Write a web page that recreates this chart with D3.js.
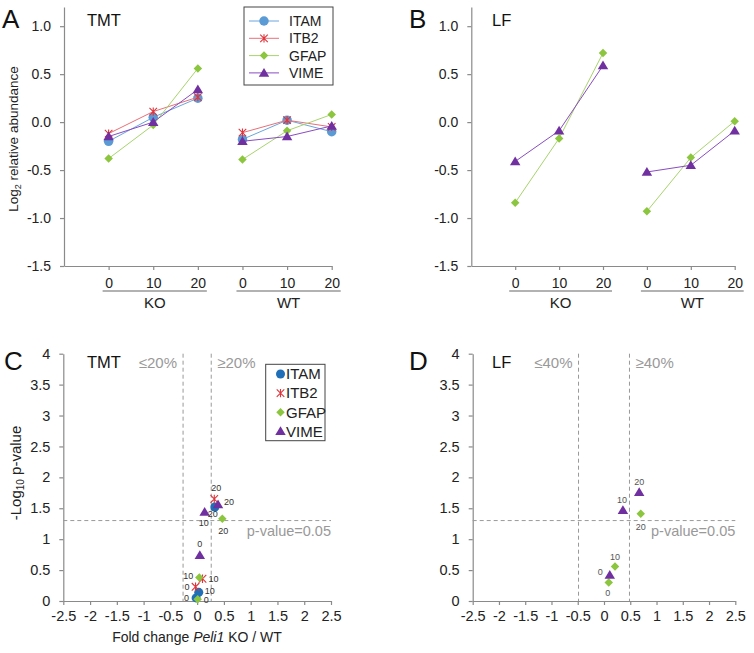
<!DOCTYPE html>
<html><head><meta charset="utf-8">
<script src="https://cdn.jsdelivr.net/npm/d3@7"></script>
<style>body{margin:0;background:#fff} svg{display:block} text{font-family:"Liberation Sans",Arial,sans-serif}</style>
</head><body><svg id="c" width="754" height="653"></svg>
<script>
// ---------------- data ----------------
const timeLabels = ["0", "10", "20"];
const groupLabels = ["KO", "WT"];
const proteins = ["ITAM", "ITB2", "GFAP", "VIME"];
const yTicksAB = [-1.5, -1.0, -0.5, 0.0, 0.5, 1.0];
const yTicksCD = [0, 0.5, 1, 1.5, 2, 2.5, 3, 3.5, 4];
const xTicksCD = [-2.5, -2, -1.5, -1, -0.5, 0, 0.5, 1, 1.5, 2, 2.5];

// Panel A (TMT) log2 relative abundance: KO 0,10,20 then WT 0,10,20
const tmtITAM = [-0.20, 0.05, 0.25, -0.18, 0.02, -0.10];
const tmtITB2 = [-0.12, 0.11, 0.26, -0.11, 0.02, -0.05];
const tmtGFAP = [-0.38, -0.03, 0.56, -0.39, -0.09, 0.08];
const tmtVIME = [-0.15, 0.00, 0.34, -0.20, -0.15, -0.04];
// Panel B (LF)
const lfGFAP = [-0.84, -0.17, 0.72, -0.93, -0.37, 0.01];
const lfVIME = [-0.41, -0.09, 0.59, -0.52, -0.45, -0.09];

// Panel C (TMT) volcano: fold change KO/WT and -log10 p for 0,10,20
const tmtFoldITAM = [-0.02, 0.03, 0.33];
const tmtPvalITAM = [0.05, 0.14, 1.52];
const tmtFoldITB2 = [-0.03, 0.10, 0.32];
const tmtPvalITB2 = [0.23, 0.36, 1.65];
const tmtFoldGFAP = [0.01, 0.04, 0.47];
const tmtPvalGFAP = [0.03, 0.38, 1.33];
const tmtFoldVIME = [0.05, 0.14, 0.39];
const tmtPvalVIME = [0.74, 1.44, 1.56];
// Panel D (LF)
const lfFoldGFAP = [0.09, 0.21, 0.70];
const lfPvalGFAP = [0.30, 0.56, 1.41];
const lfFoldVIME = [0.11, 0.36, 0.67];
const lfPvalVIME = [0.42, 1.47, 1.76];

const tmtCut = 0.263;   // log2(1.2)
const lfCut = 0.485;    // log2(1.4)
const pCut = 1.301;     // -log10(0.05)

// ---------------- style ----------------
const axisColor = "#8a8a8a";
const textColor = "#222";
const lineColA = {ITAM: "#6aa6dc", ITB2: "#e87078", GFAP: "#a8d46c", VIME: "#8a4cc0"};
const markColA = {ITAM: "#5b9bd5", ITB2: "#e0343a", GFAP: "#8cc63f", VIME: "#7030a0"};
const markColC = {ITAM: "#1f6eb8", ITB2: "#e0343a", GFAP: "#8cc63f", VIME: "#7030a0"};
const markType = {ITAM: "circle", ITB2: "star", GFAP: "diamond", VIME: "triangle"};
const markSizeA = {ITAM: 9.5, ITB2: 9, GFAP: 8.5, VIME: 9.5};
const markSizeC = {ITAM: 9, ITB2: 9, GFAP: 8.5, VIME: 9.5};

const svg = d3.select("#c");

function marker(g, type, cx, cy, color, s) {
  if (type === "circle") {
    g.append("circle").attr("cx", cx).attr("cy", cy).attr("r", s * 0.5).attr("fill", color);
  } else if (type === "diamond") {
    const h = s * 0.5;
    g.append("path").attr("d", `M${cx},${cy - h}L${cx + h},${cy}L${cx},${cy + h}L${cx - h},${cy}Z`).attr("fill", color);
  } else if (type === "triangle") {
    const h = s * 0.5;
    g.append("path").attr("d", `M${cx},${cy - h * 1.05}L${cx + h * 1.1},${cy + h * 0.8}L${cx - h * 1.1},${cy + h * 0.8}Z`).attr("fill", color);
  } else if (type === "star") {
    const h = s * 0.42;
    g.append("path").attr("d", `M${cx - h},${cy - h}L${cx + h},${cy + h}M${cx - h},${cy + h}L${cx + h},${cy - h}M${cx},${cy - h * 1.1}L${cx},${cy + h * 1.1}`)
      .attr("stroke", color).attr("stroke-width", 1.1).attr("fill", "none");
  }
}

function styleAxis(a) {
  a.selectAll("path.domain").attr("stroke", axisColor).attr("stroke-width", 1.2);
  a.selectAll(".tick line").attr("stroke", axisColor).attr("stroke-width", 1.2);
  a.selectAll(".tick text").attr("fill", textColor).style("font-family", '"Liberation Sans",Arial,sans-serif');
}

// ---------------- line panels (A, B) ----------------
function linePanel(o) {
  const x = d3.scaleLinear().domain([0, 6]).range([o.x0, o.x1]);
  const y = d3.scaleLinear().domain([-1.5, 1.2]).range([266, 7]);
  const ya = svg.append("g").attr("transform", `translate(${o.x0},0)`)
    .call(d3.axisLeft(y).tickValues(yTicksAB).tickFormat(d => d.toFixed(1)).tickSize(4).tickSizeOuter(0).tickPadding(9));
  ya.selectAll(".tick text").attr("font-size", 14);
  styleAxis(ya);
  const positions = [1, 2, 3, 4, 5, 6];
  const xa = svg.append("g").attr("transform", `translate(0,266)`)
    .call(d3.axisBottom(x).tickValues(positions).tickFormat((d, i) => timeLabels[i % 3]).tickSize(4).tickSizeOuter(0).tickPadding(8));
  xa.selectAll(".tick text").attr("font-size", 14);
  styleAxis(xa);
  // group labels
  groupLabels.forEach((gl, gi) => {
    const a = x(1 + gi * 3) - 6, b = x(3 + gi * 3) + 9;
    svg.append("line").attr("x1", a).attr("x2", b).attr("y1", 291).attr("y2", 291).attr("stroke", "#999").attr("stroke-width", 1.3);
    svg.append("text").attr("x", (a + b) / 2).attr("y", 308).attr("text-anchor", "middle").attr("font-size", 15).attr("fill", textColor).text(gl);
  });
  // series
  o.series.forEach(s => {
    const g = svg.append("g");
    [0, 1].forEach(gi => {
      const pts = [0, 1, 2].map(k => [x(1 + gi * 3 + k), y(s.values[gi * 3 + k])]);
      g.append("path").attr("d", d3.line()(pts)).attr("fill", "none").attr("stroke", lineColA[s.name]).attr("stroke-width", 1);
    });
    s.values.forEach((v, i) => marker(g, markType[s.name], x(i + 1), y(v), markColA[s.name], markSizeA[s.name]));
  });
  svg.append("text").attr("x", o.letterX).attr("y", 28).attr("font-size", 26).attr("fill", "#111").text(o.letter);
  svg.append("text").attr("x", o.titleX).attr("y", 26).attr("font-size", 16.5).attr("fill", "#111").text(o.title);
}

linePanel({x0: 64, x1: 331.7, letter: "A", letterX: 2, title: "TMT", titleX: 87,
  series: [{name: "ITAM", values: tmtITAM}, {name: "ITB2", values: tmtITB2}, {name: "GFAP", values: tmtGFAP}, {name: "VIME", values: tmtVIME}]});
linePanel({x0: 471.3, x1: 734.7, letter: "B", letterX: 409, title: "LF", titleX: 492,
  series: [{name: "GFAP", values: lfGFAP}, {name: "VIME", values: lfVIME}]});

// y label A
{
  const t = svg.append("text").attr("transform", "translate(18,139) rotate(-90)").attr("text-anchor", "middle").attr("font-size", 13.5).attr("fill", textColor);
  t.append("tspan").text("Log");
  t.append("tspan").attr("font-size", 9).attr("dy", 3).text("2");
  t.append("tspan").attr("dy", -3).text(" relative abundance");
}
// legend A
{
  const g = svg.append("g");
  g.append("rect").attr("x", 244).attr("y", 7).attr("width", 89).attr("height", 78).attr("fill", "#fff").attr("stroke", "#444").attr("stroke-width", 1);
  proteins.forEach((p, i) => {
    const yy = 21 + i * 17.3;
    g.append("line").attr("x1", 249).attr("x2", 279).attr("y1", yy).attr("y2", yy).attr("stroke", lineColA[p]).attr("stroke-width", 1);
    marker(g, markType[p], 264, yy, markColA[p], markSizeA[p]);
    g.append("text").attr("x", 289).attr("y", yy + 5).attr("font-size", 14).attr("fill", textColor).text(p);
  });
}

// ---------------- volcano panels (C, D) ----------------
function volcanoPanel(o) {
  const x = d3.scaleLinear().domain([-2.5, 2.5]).range([o.x0, o.x1]);
  const y = d3.scaleLinear().domain([0, 4]).range([601, 353.7]);
  const ya = svg.append("g").attr("transform", `translate(${o.x0},0)`)
    .call(d3.axisLeft(y).tickValues(yTicksCD).tickFormat(d => String(d)).tickSize(4).tickSizeOuter(0).tickPadding(9));
  ya.selectAll(".tick text").attr("font-size", 14.5);
  styleAxis(ya);
  const xa = svg.append("g").attr("transform", `translate(0,601)`)
    .call(d3.axisBottom(x).tickValues(xTicksCD).tickFormat(d => String(d)).tickSize(4).tickSizeOuter(0).tickPadding(6));
  xa.selectAll(".tick text").attr("font-size", 14.5);
  styleAxis(xa);
  // thresholds
  const dash = g => g.attr("stroke", "#999").attr("stroke-width", 1).attr("stroke-dasharray", "4,3").attr("fill", "none");
  [-o.cut, o.cut].forEach(c => svg.append("line").attr("x1", x(c)).attr("x2", x(c)).attr("y1", y(4)).attr("y2", y(0)).call(dash));
  svg.append("line").attr("x1", o.x0).attr("x2", x(2.5)).attr("y1", y(pCut)).attr("y2", y(pCut)).call(dash);
  svg.append("text").attr("x", x(-o.cut) - 6).attr("y", 368).attr("text-anchor", "end").attr("font-size", 15).attr("fill", "#999").text("≤" + o.pct);
  svg.append("text").attr("x", x(o.cut) + 6).attr("y", 368).attr("text-anchor", "start").attr("font-size", 15).attr("fill", "#999").text("≥" + o.pct);
  svg.append("text").attr("x", x(2.5)).attr("y", 536).attr("text-anchor", "end").attr("font-size", 14.5).attr("fill", "#999").text("p-value=0.05");
  // points
  o.series.forEach(s => {
    const g = svg.append("g");
    s.fold.forEach((f, i) => {
      marker(g, markType[s.name], x(f), y(s.pval[i]), markColC[s.name], markSizeC[s.name]);
    });
  });
  o.series.forEach(s => {
    s.fold.forEach((f, i) => {
      const L = s.labels[i];
      svg.append("text").attr("x", x(f) + L[1]).attr("y", y(s.pval[i]) + L[2] + 3.2).attr("text-anchor", L[0])
        .attr("font-size", 9).attr("fill", o.labelColor).text(timeLabels[i]);
    });
  });
  svg.append("text").attr("x", o.letterX).attr("y", 370).attr("font-size", 26).attr("fill", "#111").text(o.letter);
  svg.append("text").attr("x", o.titleX).attr("y", 368).attr("font-size", 16.5).attr("fill", "#111").text(o.title);
}

// label placement [anchor, dx, dy(center)] per time point
volcanoPanel({x0: 63.3, x1: 331, cut: tmtCut, pct: "20%", letter: "C", letterX: 4, title: "TMT", titleX: 87, labelColor: "#333",
  series: [
    {name: "ITAM", fold: tmtFoldITAM, pval: tmtPvalITAM, labels: [["end", -7, 0], ["start", 6, -2], ["middle", -2, 7]]},
    {name: "ITB2", fold: tmtFoldITB2, pval: tmtPvalITB2, labels: [["end", -6, 0], ["start", 6, 0], ["middle", 2, -11]]},
    {name: "GFAP", fold: tmtFoldGFAP, pval: tmtPvalGFAP, labels: [["start", 6, 1], ["end", -6, -2], ["middle", 1, 12]]},
    {name: "VIME", fold: tmtFoldVIME, pval: tmtPvalVIME, labels: [["middle", 0, -11], ["middle", -1, 11], ["start", 6, -3]]}
  ]});
volcanoPanel({x0: 472.7, x1: 735.3, cut: lfCut, pct: "40%", letter: "D", letterX: 409, title: "LF", titleX: 492, labelColor: "#555",
  series: [
    {name: "GFAP", fold: lfFoldGFAP, pval: lfPvalGFAP, labels: [["middle", -1, 10], ["middle", 0, -9.5], ["middle", 0, 13]]},
    {name: "VIME", fold: lfFoldVIME, pval: lfPvalVIME, labels: [["end", -7, -3.5], ["middle", -1, -10], ["middle", 0, -10]]}
  ]});

// y label C
{
  const t = svg.append("text").attr("transform", "translate(21,473) rotate(-90)").attr("text-anchor", "middle").attr("font-size", 15).attr("fill", textColor);
  t.append("tspan").text("-Log");
  t.append("tspan").attr("font-size", 10).attr("dy", 3).text("10");
  t.append("tspan").attr("dy", -3).text(" p-value");
}
// x label C
{
  const t = svg.append("text").attr("x", 197).attr("y", 642).attr("text-anchor", "middle").attr("font-size", 14).attr("fill", textColor);
  t.append("tspan").text("Fold change ");
  t.append("tspan").attr("font-style", "italic").text("Peli1");
  t.append("tspan").text(" KO / WT");
}
// legend C
{
  const g = svg.append("g");
  g.append("rect").attr("x", 265.7).attr("y", 364.3).attr("width", 59.3).attr("height", 76.4).attr("fill", "#fff").attr("stroke", "#444").attr("stroke-width", 1);
  proteins.forEach((p, i) => {
    const yy = 374 + i * 19.1;
    marker(g, markType[p], 280.5, yy, markColC[p], markSizeC[p]);
    g.append("text").attr("x", 286).attr("y", yy + 5.3).attr("font-size", 15).attr("fill", textColor).text(p);
  });
}
</script></body></html>
